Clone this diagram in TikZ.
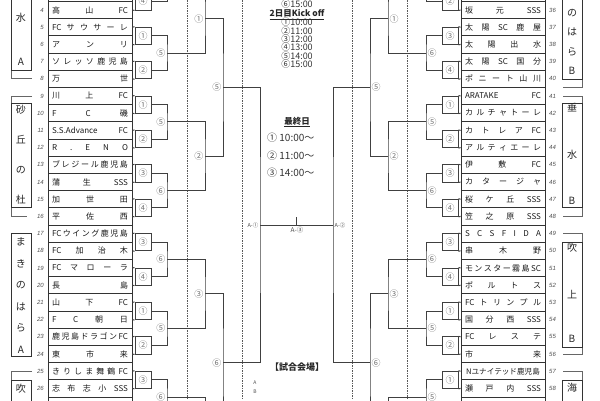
\documentclass[tikz,border=0pt]{standalone}
\usepackage{fontspec}
\setmainfont{Noto Sans CJK JP}
\newfontfamily\numf{Liberation Sans}
\begin{document}
\begin{tikzpicture}[x=1pt,y=-1pt,
  team/.style={draw=black!80, line width=0.8pt, minimum width=84pt, minimum height=17.2pt, inner sep=0pt, font=\fontsize{8}{8}\selectfont, text=black!90},
  tnum/.style={inner sep=0pt, font=\numf\itshape\fontsize{6}{6}\selectfont, text=black!70},
  mbox/.style={draw=black!75, line width=1pt, minimum width=16pt, minimum height=17.2pt, inner sep=0pt, font=\fontsize{9}{9}\selectfont, text=black!55},
  mlab/.style={inner sep=0pt, font=\fontsize{9}{9}\selectfont, text=black!55},
  brk/.style={draw=black!75, line width=1pt},
  dsh/.style={draw=black!65, line width=0.7pt, dash pattern=on 1.5pt off 1pt},
  gbox/.style={draw=black!80, line width=0.9pt, fill=white, minimum width=20pt, inner sep=0pt},
  gline/.style={draw=black!60, line width=0.8pt},
  gch/.style={inner sep=0pt, font=\fontsize{10}{10}\selectfont, text=black!85},
  ctext/.style={inner sep=0pt, font=\fontsize{9}{9}\selectfont, text=black!80},
  ctitle/.style={inner sep=0pt, font=\bfseries\fontsize{8.5}{8.5}\selectfont, text=black!85},
  ftext/.style={inner sep=0pt, font=\fontsize{10}{10}\selectfont, text=black!80},
  atext/.style={inner sep=0pt, font=\fontsize{5.5}{5.5}\selectfont, text=black!70},
]
\useasboundingbox (0,0) rectangle (600,400);
\clip (0,0) rectangle (600,400);

% dashed guide lines
\foreach \xx in {187,242,352,407} { \draw[dsh] (\xx,0) -- (\xx,400); }

% ---------------- LEFT SIDE ----------------
\foreach \n/\t in {3/{},4/{高\hfill 山\hfill FC},5/{FC\hfill サ\hfill ウ\hfill サ\hfill ー\hfill レ},6/{ア\hfill ン\hfill リ},7/{ソ\hfill レ\hfill ッ\hfill ソ\hfill 鹿\hfill 児\hfill 島},8/{万\hfill 世},9/{川\hfill 上\hfill FC},10/{F\hfill C\hfill 磯},11/{S.S.Advance\hfill FC},12/{R\hfill .\hfill E\hfill N\hfill O},13/{ブ\hfill レ\hfill ジ\hfill ー\hfill ル\hfill 鹿\hfill 児\hfill 島},14/{蒲\hfill 生\hfill SSS},15/{加\hfill 世\hfill 田},16/{平\hfill 佐\hfill 西},17/{FC\hfill ウ\hfill イ\hfill ン\hfill グ\hfill 鹿\hfill 児\hfill 島},18/{FC\hfill 加\hfill 治\hfill 木},19/{FC\hfill マ\hfill ロ\hfill ー\hfill ラ},20/{長\hfill 島},21/{山\hfill 下\hfill FC},22/{F\hfill C\hfill 朝\hfill 日},23/{鹿\hfill 児\hfill 島\hfill ド\hfill ラ\hfill ゴ\hfill ン\hfill FC},24/{東\hfill 市\hfill 来},25/{き\hfill り\hfill し\hfill ま\hfill 舞\hfill 鶴\hfill FC},26/{志\hfill 布\hfill 志\hfill 小\hfill SSS},27/{}} {
  \pgfmathsetmacro\yy{-58.8+17.2*\n}
  \node[team] (L\n) at (90,\yy) {\makebox[76pt]{\t}};
}
\foreach \n in {4,...,26} {
  \pgfmathsetmacro\yy{-58.8+17.2*\n}
  \node[tnum, anchor=east] (LN\n) at (44,\yy) {\n};
}
% round 1
\foreach \a/\l in {3/④,5/①,7/②,9/①,11/②,13/③,15/④,17/③,19/④,21/①,23/②,25/③} {
  \pgfmathsetmacro\yy{-58.8+17.2*(\a+0.5)}
  \pgfmathtruncatemacro\b{\a+1}
  \node[mbox] (LP\a) at (143,\yy) {\l};
  \draw[brk] (L\a.east) -- (LP\a.north west);
  \draw[brk] (L\b.east) -- (LP\a.south west);
}
% round 2
\coordinate (LQ1) at (167,-15.8);
\draw[brk] (LP3.east) -| (LQ1) -- (167,-40);
\foreach \a/\c/\l in {5/7/⑤,9/11/⑤,13/15/⑥,17/19/⑥,21/23/⑤} {
  \pgfmathsetmacro\yy{-58.8+17.2*(\a+1.5)}
  \coordinate (LQ\a) at (167,\yy);
  \draw[brk] (LP\a.east) -| (LQ\a) |- (LP\c.east);
  \node[mlab, anchor=east] (LQL\a) at (165.5,\yy) {\l};
}
\coordinate (LQ25) at (167,397);
\draw[brk] (LP25.east) -| (LQ25) -- (167,430);
\node[mlab, anchor=east] (LQL25) at (165.5,397) {⑥};
% round 3
\foreach \a/\c/\l in {1/5/①,9/13/②,17/21/③} {
  \pgfmathsetmacro\yy{-58.8+17.2*(\a+3.5)}
  \coordinate (LO\a) at (205,\yy);
  \draw[brk] (LQ\a) -| (LO\a) |- (LQ\c);
  \node[mlab, anchor=east] (LOL\a) at (203.5,\yy) {\l};
}
\coordinate (LO25) at (205,431.4);
\draw[brk] (LQ25) -| (LO25) -- (205,470);
% round 4
\foreach \a/\c/\l in {1/9/⑤,17/25/⑥} {
  \pgfmathsetmacro\yy{-58.8+17.2*(\a+7.5)}
  \coordinate (LH\a) at (223,\yy);
  \draw[brk] (LO\a) -| (LH\a) |- (LO\c);
  \node[mlab, anchor=east] (LHL\a) at (221.5,\yy) {\l};
}
% semifinal
\coordinate (LS) at (260,225);
\draw[brk] (LH1) -| (LS) |- (LH17);

% ---------------- RIGHT SIDE ----------------
\foreach \n/\t in {35/{},36/{坂\hfill 元\hfill SSS},37/{太\hfill 陽\hfill SC\hfill 鹿\hfill 屋},38/{太\hfill 陽\hfill 出\hfill 水},39/{太\hfill 陽\hfill SC\hfill 国\hfill 分},40/{ポ\hfill ニ\hfill ー\hfill ト\hfill 山\hfill 川},41/{ARATAKE\hfill FC},42/{カ\hfill ル\hfill チ\hfill ャ\hfill ト\hfill ー\hfill レ},43/{カ\hfill ト\hfill レ\hfill ア\hfill FC},44/{ア\hfill ル\hfill テ\hfill ィ\hfill エ\hfill ー\hfill レ},45/{伊\hfill 敷\hfill FC},46/{カ\hfill タ\hfill ー\hfill ジ\hfill ャ},47/{桜\hfill ケ\hfill 丘\hfill SSS},48/{笠\hfill 之\hfill 原\hfill SSS},49/{S\hfill C\hfill S\hfill F\hfill I\hfill D\hfill A},50/{串\hfill 木\hfill 野},51/{モ\hfill ン\hfill ス\hfill タ\hfill ー\hfill 霧\hfill 島\hfill SC},52/{ポ\hfill ル\hfill ト\hfill ス},53/{FC\hfill ト\hfill リ\hfill ン\hfill プ\hfill ル},54/{国\hfill 分\hfill 西\hfill SSS},55/{FC\hfill レ\hfill ス\hfill テ},56/{市\hfill 来},57/{\fontsize{7.6}{7.6}\selectfont Nユナイテッド鹿児島},58/{瀬\hfill 戸\hfill 内\hfill SSS},59/{}} {
  \pgfmathsetmacro\yy{-58.8+17.2*(\n-32)}
  \node[team] (R\n) at (503,\yy) {\makebox[76pt]{\t}};
}
\foreach \n in {36,...,58} {
  \pgfmathsetmacro\yy{-58.8+17.2*(\n-32)}
  \node[tnum, anchor=west] (RN\n) at (549,\yy) {\n};
}
% round 1
\foreach \a/\l in {35/②,37/③,39/④,41/①,43/②,45/③,47/④,49/③,51/④,53/①,55/②,57/①} {
  \pgfmathsetmacro\yy{-58.8+17.2*(\a-32+0.5)}
  \pgfmathtruncatemacro\b{\a+1}
  \node[mbox] (RP\a) at (450,\yy) {\l};
  \draw[brk] (R\a.west) -- (RP\a.north east);
  \draw[brk] (R\b.west) -- (RP\a.south east);
}
% round 2
\coordinate (RQ33) at (426,-15.8);
\draw[brk] (RP35.west) -| (RQ33) -- (426,-40);
\foreach \a/\c/\l in {37/39/⑥,41/43/⑤,45/47/⑥,49/51/⑥,53/55/⑤} {
  \pgfmathsetmacro\yy{-58.8+17.2*(\a-32+1.5)}
  \coordinate (RQ\a) at (426,\yy);
  \draw[brk] (RP\a.west) -| (RQ\a) |- (RP\c.west);
  \node[mlab, anchor=west] (RQL\a) at (427.5,\yy) {\l};
}
\coordinate (RQ57) at (426,397);
\draw[brk] (RP57.west) -| (RQ57) -- (426,430);
\node[mlab, anchor=west] (RQL57) at (427.5,397) {⑤};
% round 3
\foreach \a/\c/\l in {33/37/①,41/45/②,49/53/③} {
  \pgfmathsetmacro\yy{-58.8+17.2*(\a-32+3.5)}
  \coordinate (RO\a) at (388,\yy);
  \draw[brk] (RQ\a) -| (RO\a) |- (RQ\c);
  \node[mlab, anchor=west] (ROL\a) at (389.5,\yy) {\l};
}
\coordinate (RO57) at (388,431.4);
\draw[brk] (RQ57) -| (RO57) -- (388,470);
% round 4
\foreach \a/\c/\l in {33/41/⑤,49/57/⑥} {
  \pgfmathsetmacro\yy{-58.8+17.2*(\a-32+7.5)}
  \coordinate (RH\a) at (370,\yy);
  \draw[brk] (RO\a) -| (RH\a) |- (RO\c);
  \node[mlab, anchor=west] (RHL\a) at (371.5,\yy) {\l};
}
% semifinal
\coordinate (RS) at (333,225);
\draw[brk] (RH33) -| (RS) |- (RH49);

% final
\draw[brk] (LS) -- (RS);
\coordinate (FM) at (296.5,225);
\coordinate (FT) at (296.5,217);
\draw[brk] (FM) -- (FT);
\node[atext, anchor=east] (AL) at (258.5,225) {A-①};
\node[atext, anchor=west] (AR) at (334.5,225) {A-②};
\node[atext, font=\fontsize{6.5}{6.5}\selectfont] (AF) at (297,230) {A-③};

% ---------------- GROUP LABELS ----------------
% left group 1
\draw[gline] (11,60) -- (11,78.8) -- (32,78.8);
\node[gbox, minimum height=110pt] (LG1) at (21,15) {};
\node[gch] (LG1a) at (21,18) {水};
\node[gch] (LG1b) at (21,62) {A};
% left group 2
\draw[gline] (32,96.2) -- (11,96.2) -- (11,110);
\draw[gline] (11,200) -- (11,216.4) -- (27,216.4);
\node[gbox, minimum height=104pt] (LG2) at (21,155) {};
\node[gch] (LG2a) at (21,110) {砂};
\node[gch] (LG2b) at (21,140) {丘};
\node[gch] (LG2c) at (21,170) {の};
\node[gch] (LG2d) at (21,200) {杜};
% left group 3
\node[gbox, minimum height=123pt] (LG3) at (21,294.5) {};
\foreach \c/\yy [count=\i] in {ま/242,き/263.5,の/285,は/306.5,ら/328,A/349.5} {
  \node[gch] (LG3c\i) at (21,\yy) {\c};
}
% left group 4
\draw[gline] (32,371.2) -- (11,371.2) -- (11,385);
\node[gbox, minimum height=100pt] (LG4) at (21,430) {};
\node[gch] (LG4a) at (21,389) {吹};

% right group 1
\draw[gline] (582,70) -- (582,87) -- (563,87);
\node[gbox, minimum height=119pt] (RG1) at (572,19.5) {};
\node[gch] (RG1a) at (572,13) {の};
\node[gch] (RG1b) at (572,32) {は};
\node[gch] (RG1c) at (572,52) {ら};
\node[gch] (RG1d) at (572,71) {B};
% right group 2
\draw[gline] (563,96.2) -- (582,96.2) -- (582,110);
\draw[gline] (582,200) -- (582,216.4) -- (563,216.4);
\node[gbox, minimum height=104pt] (RG2) at (572,155) {};
\node[gch] (RG2a) at (572,108) {垂};
\node[gch] (RG2b) at (572,155) {水};
\node[gch] (RG2c) at (572,201) {B};
% right group 3
\draw[gline] (563,233.6) -- (582,233.6) -- (582,250);
\draw[gline] (582,340) -- (582,354.4) -- (563,354.4);
\node[gbox, minimum height=105pt] (RG3) at (572,294.5) {};
\node[gch] (RG3a) at (572,248) {吹};
\node[gch] (RG3b) at (572,295) {上};
\node[gch] (RG3c) at (572,339) {B};
% right group 4
\draw[gline] (563,371.2) -- (582,371.2) -- (582,385);
\node[gbox, minimum height=100pt] (RG4) at (572,430) {};
\node[gch] (RG4a) at (572,388) {海};

% ---------------- CENTRE TEXT ----------------
\node[ctext] (T0) at (297,4) {⑥15:00};
\node[ctitle] (T1) at (297,14.5) {\underline{2日目Kick off}};
\foreach \s/\yy [count=\i] in {①10:00/22.5,②11:00/30.8,③12:00/39.1,④13:00/47.4,⑤14:00/55.7,⑥15:00/64} {
  \node[ctext] (TK\i) at (297,\yy) {\s};
}
\node[ctitle] (T2) at (297,122) {\underline{最終日}};
\foreach \s/\yy [count=\i] in {① 10:00〜/138,② 11:00〜/156,③ 14:00〜/173} {
  \node[ftext, anchor=west] (TF\i) at (267,\yy) {\s};
}
\node[ctitle, font=\bfseries\fontsize{9}{9}\selectfont] (T3) at (297,367) {【試合会場】};
\node[atext, font=\fontsize{5}{5}\selectfont] (VA) at (255,383) {A};
\node[atext, font=\fontsize{5}{5}\selectfont] (VB) at (255,392) {B};
\end{tikzpicture}
\end{document}
